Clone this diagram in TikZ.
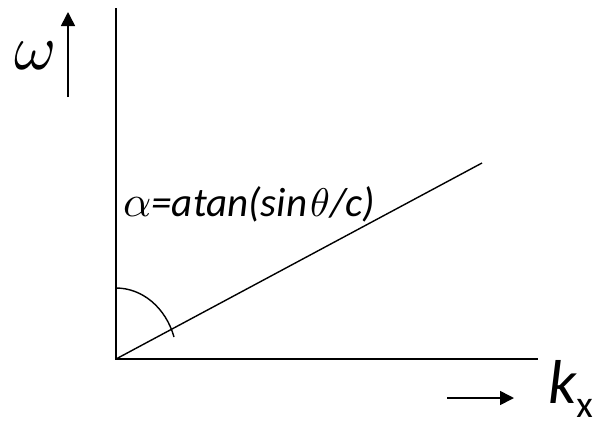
\documentclass[tikz,border=0pt]{standalone}
\usepackage{graphicx}
\usepackage{fontspec}
\setmainfont{Carlito}
\usetikzlibrary{arrows.meta}
\newcommand{\bigsym}[2]{\scalebox{#1}{\fontsize{10}{12}\selectfont$#2$}}
\begin{document}
\begin{tikzpicture}[x=1pt,y=-1pt,
  axis/.style={line width=1.6pt},
  thin/.style={line width=1.4pt},
  arr/.style={line width=1.6pt,-{Triangle[length=14pt,width=14pt]}},
  lbl/.style={inner sep=0pt,anchor=base west}]
\useasboundingbox (0,0) rectangle (602,421);
\coordinate (O) at (116,359);
\coordinate (Ytop) at (116,8);
\coordinate (Xend) at (538,359);
\coordinate (Dend) at (482,163);
\draw[axis] (Ytop) -- (O) -- (Xend);
\draw[thin] (O) -- (Dend);
\draw[thin] (116,288) arc[start angle=-90,end angle=-18,x radius=61,y radius=71];
% omega arrow
\coordinate (wa) at (68,97);
\coordinate (wb) at (68,12);
\draw[arr] (wa) -- (wb);
\node[inner sep=0pt] (w) at (36,56) {\bigsym{6.4}{\omega}};
% label
\node[lbl] (alpha) at (123,216) {\fontsize{41}{41}\selectfont\itshape\bigsym{4.4}{\alpha}=atan(sin\kern3pt\bigsym{4.0}{\theta}/c)};
% kx arrow
\coordinate (ka) at (447,398);
\coordinate (kb) at (514,398);
\draw[arr] (ka) -- (kb);
\node[lbl] (k) at (548,403) {\fontsize{62}{62}\selectfont\itshape k\fontsize{38}{38}\selectfont\upshape\raisebox{-14pt}{x}};
\end{tikzpicture}
\end{document}
